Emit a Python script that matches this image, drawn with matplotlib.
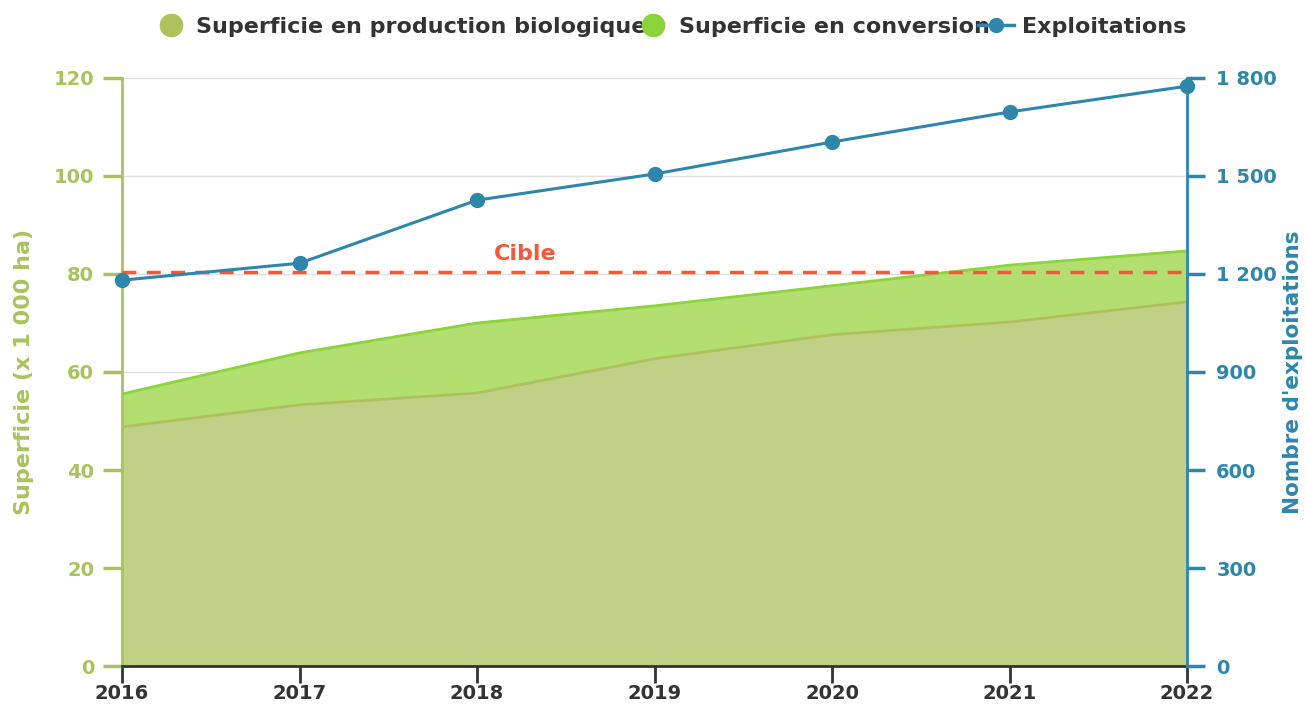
import matplotlib
matplotlib.use("Agg")
import matplotlib.pyplot as plt
from matplotlib.lines import Line2D
from matplotlib.ticker import FuncFormatter

years = [2016, 2017, 2018, 2019, 2020, 2021, 2022]
bio = [48.8, 53.3, 55.7, 62.7, 67.6, 70.2, 74.3]
conversion = [6.7, 10.6, 14.3, 10.8, 10.0, 11.6, 10.4]
exploitations = [1181, 1233, 1426, 1506, 1604, 1696, 1775]
cible = 80.4

c_bio_fill = "#c0d086"
c_bio_line = "#aec25c"
c_conv_fill = "#b2df6f"
c_conv_line = "#8cd43c"
c_left = "#a9c25e"
c_right = "#2e86ab"
c_cible = "#ef5a3c"
c_text = "#333333"

plt.rcParams['font.family'] = ['DejaVu Sans']
plt.rcParams['font.weight'] = 'bold'

fig = plt.figure(figsize=(13.05, 7.05), dpi=100)
ax = fig.add_axes([0.0935, 0.0553, 0.8161, 0.8341])
ax2 = ax.twinx()

total = [b + c for b, c in zip(bio, conversion)]
ax.fill_between(years, 0, bio, color=c_bio_fill, zorder=2, linewidth=0)
ax.plot(years, bio, color=c_bio_line, lw=2, zorder=3)
ax.fill_between(years, bio, total, color=c_conv_fill, zorder=2, linewidth=0)
ax.plot(years, total, color=c_conv_line, lw=2, zorder=3)
ax.axhline(cible, color=c_cible, lw=2.5, ls=(0, (4, 3)), zorder=4)
ax.text(2018.27, cible + 1.7, "Cible", color=c_cible, fontsize=16, fontweight='bold',
        ha='center', va='bottom')

ax.set_xlim(2016, 2022)
ax.set_ylim(0, 120)
ax.set_yticks(range(0, 121, 20))
ax.set_xticks(years)
ax.grid(axis='y', color='#e0e0e0', lw=1, zorder=0)
ax.set_axisbelow(True)

ax2.plot(years, exploitations, color=c_right, lw=2.2, marker='o', ms=10, zorder=5, clip_on=False)
ax2.set_ylim(0, 1800)
ax2.set_yticks(range(0, 1801, 300))
ax2.yaxis.set_major_formatter(FuncFormatter(lambda v, p: f"{int(v):,}".replace(",", " ")))

for s in ['top']:
    ax.spines[s].set_visible(False)
    ax2.spines[s].set_visible(False)
ax.spines['right'].set_visible(False)
ax2.spines['left'].set_visible(False)
ax2.spines['bottom'].set_visible(False)
ax.spines['left'].set_color(c_left)
ax.spines['left'].set_linewidth(2)
ax2.spines['right'].set_color(c_right)
ax2.spines['right'].set_linewidth(2)
ax.spines['bottom'].set_color(c_text)
ax.spines['bottom'].set_linewidth(2)

ax.tick_params(axis='y', colors=c_left, length=14, width=2.5, labelsize=14, pad=6)
ax.tick_params(axis='x', colors=c_text, length=12, width=2, labelsize=14, pad=1)
ax2.tick_params(axis='y', colors=c_right, length=13, width=2.5, labelsize=14, pad=8)
for lbl in ax.get_yticklabels() + ax.get_xticklabels() + ax2.get_yticklabels():
    lbl.set_fontweight('bold')
ax.set_ylabel("Superficie (x 1 000 ha)", color=c_left, fontsize=16, fontweight='bold', labelpad=14)
ax2.set_ylabel("Nombre d'exploitations", color=c_right, fontsize=15.5, fontweight='bold', labelpad=4)

handles = [
    Line2D([], [], ls='none', marker='o', ms=16, color=c_bio_line, mec=c_bio_line),
    Line2D([], [], ls='none', marker='o', ms=16, color=c_conv_line, mec=c_conv_line),
    Line2D([], [], color=c_right, lw=2.5, marker='o', ms=10),
]
labels = ["Superficie en production biologique", "Superficie en conversion", "Exploitations"]
leg = fig.legend(handles, labels, loc='center', bbox_to_anchor=(0.513, 0.962), ncol=3,
                 frameon=False, handlelength=1.6, handletextpad=0.35,
                 columnspacing=-0.5, prop={'weight': 'bold', 'size': 16})
for t in leg.get_texts():
    t.set_color(c_text)

fig.savefig("out.png", dpi=100)
